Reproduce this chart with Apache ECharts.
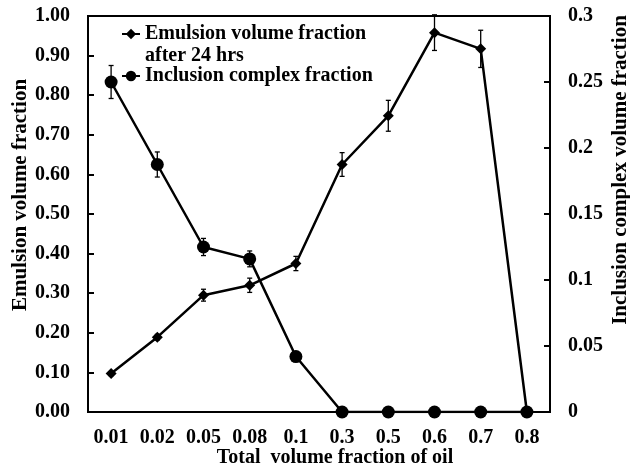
<!DOCTYPE html>
<html>
<head>
<meta charset="utf-8">
<script src="https://cdn.jsdelivr.net/npm/echarts@6/dist/echarts.min.js"></script>
<style>
html,body{margin:0;padding:0;background:#fff;}
#chart{width:630px;height:471px;}
</style>
</head>
<body>
<div id="chart"></div>
<script>
const categories = ['0.01','0.02','0.05','0.08','0.1','0.3','0.5','0.6','0.7','0.8'];
const emulsion = [0.097, 0.189, 0.295, 0.320, 0.375, 0.625, 0.748, 0.958, 0.917, 0.0];
const emulsionErr = [0.005, 0.007, 0.015, 0.018, 0.018, 0.030, 0.039, 0.045, 0.047, 0.0];
const inclusion = [0.250, 0.1875, 0.125, 0.116, 0.042, 0, 0, 0, 0, 0];
const inclusionErr = [0.0125, 0.0095, 0.0065, 0.006, 0.002, 0, 0, 0, 0, 0];
const leftTicks = {min: 0, max: 1, interval: 0.1};
const rightTicks = {min: 0, max: 0.3, interval: 0.05};

const FONT = '"Liberation Serif", "Times New Roman", serif';
const errData = (vals, errs) => vals.map((v, i) => [i, v - errs[i], v + errs[i]]);

function errRender(params, api) {
  const x = api.value(0);
  const lo = api.value(1), hi = api.value(2);
  if (hi - lo < 1e-9) return null;
  const a = api.coord([x, hi]);
  const b = api.coord([x, lo]);
  const w = 2.5;
  const st = {stroke: '#000', lineWidth: 1.3};
  return {
    type: 'group',
    children: [
      {type: 'line', shape: {x1: a[0], y1: a[1], x2: b[0], y2: b[1]}, style: st},
      {type: 'line', shape: {x1: a[0]-w, y1: a[1], x2: a[0]+w, y2: a[1]}, style: st},
      {type: 'line', shape: {x1: b[0]-w, y1: b[1], x2: b[0]+w, y2: b[1]}, style: st}
    ]
  };
}

const chart = echarts.init(document.getElementById('chart'));
const E_NAME = 'Emulsion volume fraction after 24 hrs';
const I_NAME = 'Inclusion complex fraction';
chart.setOption({
  animation: false,
  backgroundColor: '#fff',
  textStyle: {fontFamily: FONT, color: '#000', fontWeight: 'bold'},
  grid: {left: 88, right: 80, top: 16, bottom: 59, show: true, borderColor: '#000', borderWidth: 2, containLabel: false, outerBoundsMode: 'none'},
  legend: {
    orient: 'vertical',
    left: 121,
    top: 1,
    padding: 0,
    itemGap: -2,
    itemWidth: 18,
    itemHeight: 13,
    formatter: function (name) {
      if (name === E_NAME) return '{s| }\n{t|Emulsion volume fraction}\n{t|after 24 hrs}';
      return '{t|' + name + '}';
    },
    textStyle: {
      fontFamily: FONT, fontSize: 20, fontWeight: 'bold', color: '#000',
      rich: {
        s: {fontFamily: FONT, fontSize: 20, lineHeight: 22, height: 22},
        t: {fontFamily: FONT, fontSize: 20, fontWeight: 'bold', color: '#000', lineHeight: 22, height: 22}
      }
    },
    data: [E_NAME, I_NAME]
  },
  xAxis: {
    type: 'category',
    data: categories,
    boundaryGap: true,
    name: 'Total  volume fraction of oil',
    nameLocation: 'middle',
    nameGap: 36,
    nameMoveOverlap: false,
    nameTextStyle: {fontFamily: FONT, fontSize: 20, fontWeight: 'bold', color: '#000', padding: [0, 0, 0, 32]},
    axisLine: {lineStyle: {color: '#000', width: 2}},
    axisTick: {inside: true, length: 6, lineStyle: {color: '#000', width: 2}},
    axisLabel: {interval: 0, fontFamily: FONT, fontSize: 20, fontWeight: 'bold', color: '#000', margin: 16},
    splitLine: {show: false}
  },
  yAxis: [
    {
      type: 'value',
      min: leftTicks.min, max: leftTicks.max, interval: leftTicks.interval,
      position: 'left',
      name: 'Emulsion volume fraction',
      nameLocation: 'middle',
      nameRotate: 90,
      nameGap: 57,
      nameMoveOverlap: false,
      nameTextStyle: {fontFamily: FONT, fontSize: 21, fontWeight: 'bold', color: '#000', padding: [0, 0, 0, 38]},
      axisLine: {show: true, lineStyle: {color: '#000', width: 2}},
      axisTick: {show: true, inside: true, length: 6, lineStyle: {color: '#000', width: 2}},
      axisLabel: {fontFamily: FONT, fontSize: 20, fontWeight: 'bold', color: '#000', margin: 18, formatter: v => v.toFixed(2)},
      splitLine: {show: false}
    },
    {
      type: 'value',
      min: rightTicks.min, max: rightTicks.max, interval: rightTicks.interval,
      position: 'right',
      name: 'Inclusion complex volume fraction',
      nameLocation: 'middle',
      nameRotate: 90,
      nameGap: 60,
      nameMoveOverlap: false,
      nameTextStyle: {fontFamily: FONT, fontSize: 21, fontWeight: 'bold', color: '#000', padding: [0, 0, 0, 88]},
      axisLine: {show: true, lineStyle: {color: '#000', width: 2}},
      axisTick: {show: true, inside: true, length: 6, lineStyle: {color: '#000', width: 2}},
      axisLabel: {fontFamily: FONT, fontSize: 20, fontWeight: 'bold', color: '#000', margin: 18, formatter: v => (v === 0 ? '0' : String(+v.toFixed(2)))},
      splitLine: {show: false}
    }
  ],
  series: [
    {
      name: E_NAME,
      type: 'line',
      yAxisIndex: 0,
      data: emulsion,
      symbol: 'diamond',
      symbolSize: 11,
      lineStyle: {color: '#000', width: 2.5},
      itemStyle: {color: '#000'},
      z: 3
    },
    {
      name: I_NAME,
      type: 'line',
      yAxisIndex: 1,
      data: inclusion,
      symbol: 'circle',
      symbolSize: 13,
      lineStyle: {color: '#000', width: 2.5},
      itemStyle: {color: '#000'},
      z: 3
    },
    {
      type: 'custom',
      yAxisIndex: 0,
      renderItem: errRender,
      data: errData(emulsion, emulsionErr),
      encode: {x: 0, y: [1, 2]},
      clip: false,
      z: 4,
      silent: true
    },
    {
      type: 'custom',
      yAxisIndex: 1,
      renderItem: errRender,
      data: errData(inclusion, inclusionErr),
      encode: {x: 0, y: [1, 2]},
      clip: false,
      z: 4,
      silent: true
    }
  ]
});
</script>
</body>
</html>
